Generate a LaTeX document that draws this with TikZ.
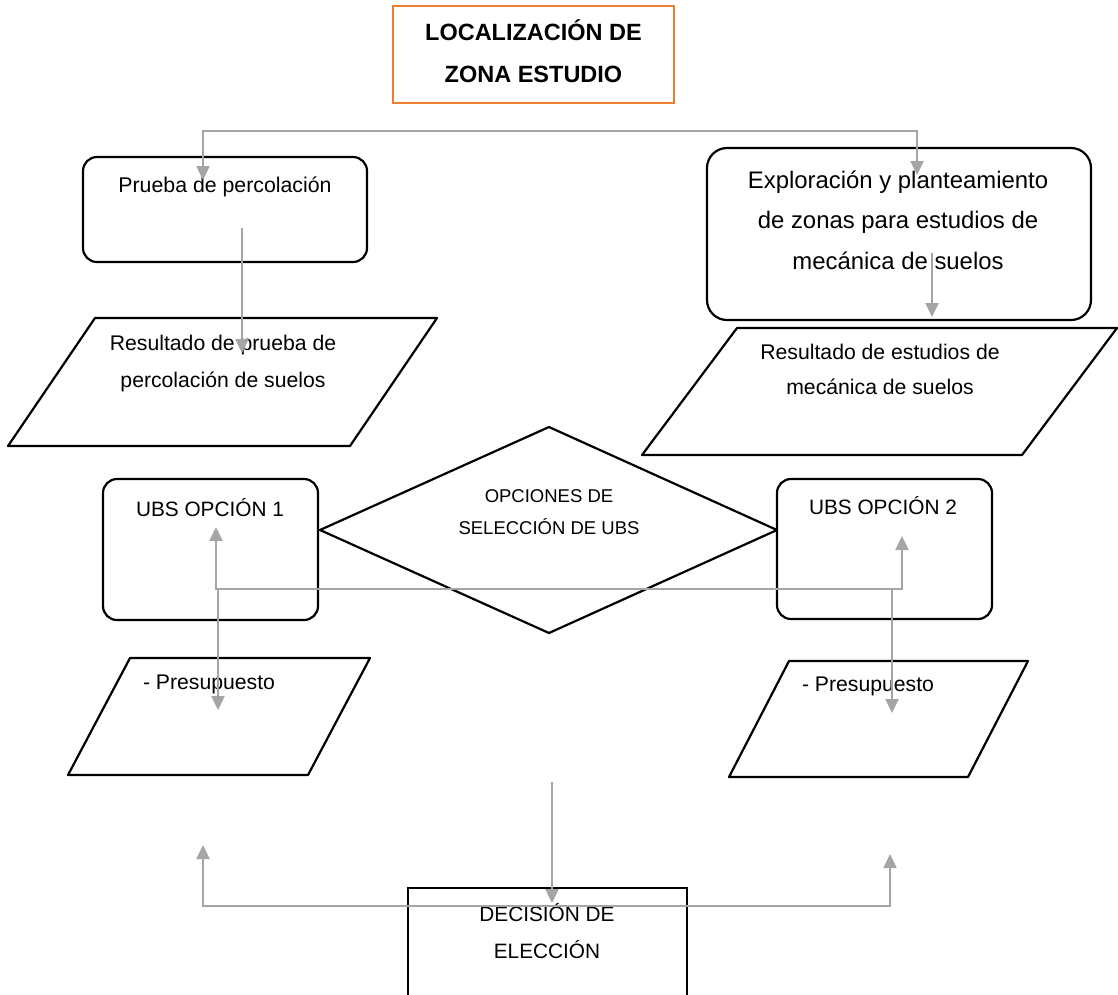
\documentclass[tikz,border=0pt]{standalone}
\usepackage{fontspec}
\setmainfont{Liberation Sans}
\usetikzlibrary{arrows.meta}

\definecolor{flecha}{HTML}{A5A5A5}
\definecolor{naranja}{HTML}{ED7D31}

\begin{document}
\begin{tikzpicture}[x=1pt, y=-1pt, >={Triangle[length=14pt, width=13pt]}]
	\tikzset{
		contorno/.style={draw=black, line width=2.2pt, line join=round},
		caja/.style={contorno, rounded corners=14pt, inner sep=0pt},
		flujo/.style={draw=flecha, line width=2.4pt},
		texto/.style={inner sep=0pt, align=center, anchor=base},
	}
	\useasboundingbox (0,0) rectangle (1118,994);

	% titulo
	\node[draw=naranja, line width=2.2pt, minimum width=281pt, minimum height=97pt] (marco) at (533.5,54.5) {};
	\node[texto, font=\fontsize{23.5}{41.5}\selectfont\bfseries] (titulo) at (533.5,82)
		{LOCALIZACIÓN DE\\ZONA ESTUDIO};

	% columna izquierda
	\node[caja, minimum width=284pt, minimum height=105pt] (cajaprueba) at (225,209.5) {};
	\node[texto, font=\fontsize{21.3}{37}\selectfont] (prueba) at (225,192) {Prueba de percolación};
	\draw[contorno] (95,318) -- (437,318) -- (350,446) -- (8,446) -- cycle;
	\node[texto, font=\fontsize{21.2}{37}\selectfont] (resperc) at (223,387)
		{Resultado de prueba de\\percolación de suelos};

	% columna derecha
	\node[caja, rounded corners=20pt, minimum width=384pt, minimum height=172pt] (cajaexpl) at (899,234) {};
	\node[texto, font=\fontsize{23.9}{40.5}\selectfont] (explor) at (898,269)
		{Exploración y planteamiento\\de zonas para estudios de\\mecánica de suelos};
	\draw[contorno] (737,328) -- (1117,328) -- (1022,455) -- (642,455) -- cycle;
	\node[texto, font=\fontsize{21.2}{35}\selectfont] (resmec) at (880,394)
		{Resultado de estudios de\\mecánica de suelos};

	% opciones
	\draw[contorno] (320,530) -- (549,427) -- (777,530) -- (549,633) -- cycle;
	\node[texto, font=\fontsize{18.5}{32}\selectfont] (opciones) at (549,534)
		{OPCIONES DE\\SELECCIÓN DE UBS};
	\node[caja, minimum width=215pt, minimum height=141pt] (cajaubsA) at (210.5,549.5) {};
	\node[texto, font=\fontsize{20.8}{37}\selectfont] (ubsA) at (210,516) {UBS OPCIÓN 1};
	\node[caja, minimum width=215pt, minimum height=140pt] (cajaubsB) at (884.5,549) {};
	\node[texto, font=\fontsize{20.8}{37}\selectfont] (ubsB) at (883,514) {UBS OPCIÓN 2};

	% presupuestos
	\draw[contorno] (130,658) -- (370,658) -- (308,775) -- (68,775) -- cycle;
	\node[texto, font=\fontsize{21.2}{37}\selectfont] (presA) at (209,689) {- Presupuesto};
	\draw[contorno] (789,661) -- (1028,661) -- (968,777) -- (729,777) -- cycle;
	\node[texto, font=\fontsize{21.2}{37}\selectfont] (presB) at (868,691) {- Presupuesto};

	% decision
	\draw[contorno, line join=miter] (408,888) rectangle (687,1010);
	\node[texto, font=\fontsize{20.8}{37}\selectfont] (decision) at (547,958)
		{DECISIÓN DE\\ELECCIÓN};

	% puntos de las flechas
	\coordinate (finA) at (203,180);
	\coordinate (bifA) at (203,131);
	\coordinate (bifB) at (917,131);
	\coordinate (finB) at (917,175);
	\coordinate (iniP) at (242,228);
	\coordinate (finP) at (242,353);
	\coordinate (iniE) at (932,253);
	\coordinate (finE) at (932,317);
	\coordinate (finU1) at (216,527);
	\coordinate (codU1) at (216,589);
	\coordinate (codU2) at (902,589);
	\coordinate (finU2) at (902,536);
	\coordinate (finPA) at (218,710);
	\coordinate (finPB) at (892,713);
	\coordinate (iniD) at (552,782);
	\coordinate (finD) at (552,903);
	\coordinate (finI) at (203,845);
	\coordinate (codI) at (203,906);
	\coordinate (codD) at (890,906);
	\coordinate (finR) at (890,854);

	% flechas
	\draw[flujo, <->] (finA) -- (bifA) -- (bifB) -- (finB);
	\draw[flujo, ->] (iniP) -- (finP);
	\draw[flujo, ->] (iniE) -- (finE);
	\draw[flujo, <->] (finU1) -- (codU1) -- (codU2) -- (finU2);
	\draw[flujo, ->] (codU1 -| finPA) -- (finPA);
	\draw[flujo, ->] (codU2 -| finPB) -- (finPB);
	\draw[flujo, <->] (finI) -- (codI) -- (codD) -- (finR);
	\draw[flujo, ->] (iniD) -- (finD);
\end{tikzpicture}
\end{document}
